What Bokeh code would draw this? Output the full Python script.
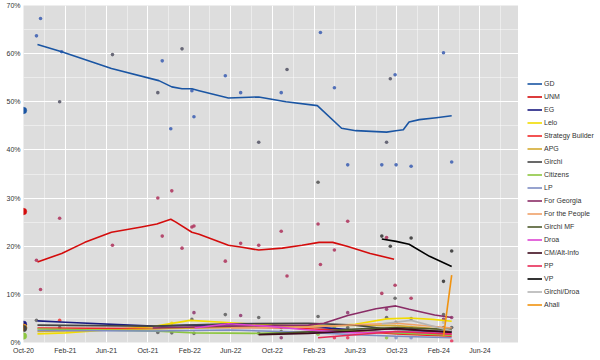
import pandas as pd
from bokeh.plotting import figure
from bokeh.layouts import row
from bokeh.models import FixedTicker, PrintfTickFormatter, Legend, LegendItem, Range1d
from bokeh.embed import file_html
from bokeh.resources import INLINE

# ---------------- data ----------------
parties = ["GD", "UNM", "EG", "Lelo", "Strategy Builder", "APG", "Girchi", "Citizens", "LP",
           "For Georgia", "For the People", "Girchi MF", "Droa", "CM/Alt-Info", "PP", "VP",
           "Girchi/Droa", "Ahali"]

x_tick_dates = ["2020-10-01", "2021-02-01", "2021-06-01", "2021-10-01", "2022-02-01", "2022-06-01",
                "2022-10-01", "2023-02-01", "2023-06-01", "2023-10-01", "2024-02-01", "2024-06-01"]
x_tick_labels = ["Oct-20", "Feb-21", "Jun-21", "Oct-21", "Feb-22", "Jun-22",
                 "Oct-22", "Feb-23", "Jun-23", "Oct-23", "Feb-24", "Jun-24"]
x_minor_dates = ["2020-12-01", "2021-04-01", "2021-08-01", "2021-12-01", "2022-04-01", "2022-08-01",
                 "2022-12-01", "2023-04-01", "2023-08-01", "2023-12-01", "2024-04-01", "2024-08-01"]
y_ticks = [0, 10, 20, 30, 40, 50, 60, 70]
y_minor = [5, 15, 25, 35, 45, 55, 65]

# 2020 election result
election_date = "2020-10-01"
election_parties = ["GD", "UNM", "EG", "Lelo", "Strategy Builder", "APG", "Girchi", "Citizens"]
election_values = [48.2, 27.2, 3.8, 3.15, 3.15, 3.14, 2.89, 1.33]

# trend lines
gd_dates = ["2020-11-11", "2021-01-21", "2021-06-16", "2021-11-02", "2021-12-10", "2022-01-09",
            "2022-02-07", "2022-02-28", "2022-05-25", "2022-08-22", "2022-11-10", "2023-02-10",
            "2023-04-22", "2023-06-03", "2023-09-01", "2023-09-28", "2023-10-20", "2023-11-06",
            "2023-12-06", "2024-01-25", "2024-03-10"]
gd_vals = [61.9, 60.4, 56.9, 54.4, 53.1, 52.7, 52.7, 52.3, 50.8, 51.0, 50.0, 49.2,
           44.5, 44.0, 43.7, 44.0, 44.2, 45.8, 46.3, 46.7, 47.1]

unm_dates = ["2020-11-11", "2021-01-21", "2021-03-30", "2021-06-16", "2021-09-12", "2021-10-27",
             "2021-12-07", "2021-12-22", "2022-02-07", "2022-02-28", "2022-05-25", "2022-07-04",
             "2022-08-22", "2022-10-30", "2022-12-27", "2023-02-15", "2023-03-27", "2023-05-08",
             "2023-07-15", "2023-09-23"]
unm_vals = [16.7, 18.5, 20.8, 22.9, 24.0, 24.6, 25.6, 25.0, 22.9, 22.5, 20.2, 19.8,
            19.2, 19.6, 20.2, 20.8, 20.8, 20.0, 18.5, 17.3]

eg_dates = ["2020-11-11", "2021-02-01", "2021-10-15", "2022-03-01", "2022-08-01", "2023-01-15",
            "2023-06-01", "2023-10-01", "2024-01-15", "2024-03-10"]
eg_vals = [4.5, 4.2, 3.4, 3.6, 3.8, 3.3, 2.6, 2.0, 2.2, 2.4]

lelo_dates = ["2020-11-11", "2021-02-01", "2021-10-15", "2022-02-01", "2022-06-01", "2022-10-01",
              "2023-02-01", "2023-06-01", "2023-09-01", "2023-11-06", "2024-01-15", "2024-03-10"]
lelo_vals = [1.8, 2.0, 3.3, 4.6, 4.1, 3.6, 3.3, 3.8, 4.9, 5.1, 4.8, 4.4]

sb_dates = ["2020-11-11", "2021-10-15", "2022-05-01", "2022-12-01", "2023-06-01", "2023-10-01", "2024-03-10"]
sb_vals = [3.0, 2.9, 3.2, 3.0, 2.4, 1.8, 1.3]

apg_dates = ["2020-11-11", "2021-10-15", "2022-06-01", "2023-01-15", "2023-06-01", "2023-10-01", "2024-03-10"]
apg_vals = [2.3, 2.8, 3.2, 3.3, 3.6, 3.5, 2.6]

girchi_dates = ["2020-11-11", "2021-10-15", "2022-06-01", "2023-01-15", "2023-06-01", "2023-09-01", "2024-03-10"]
girchi_vals = [3.6, 3.4, 3.9, 4.0, 3.6, 2.8, 2.2]

citizens_dates = ["2020-11-11", "2021-10-15", "2022-02-15", "2022-08-22", "2023-02-01", "2023-06-01",
                  "2023-10-01", "2024-03-10"]
citizens_vals = [2.8, 2.4, 2.0, 1.9, 2.2, 2.5, 2.0, 1.5]

lp_dates = ["2020-11-11", "2021-10-15", "2022-06-01", "2023-01-15", "2023-06-01", "2023-10-01", "2024-03-10"]
lp_vals = [2.5, 2.4, 2.6, 2.1, 1.6, 1.3, 1.0]

fg_dates = ["2021-10-15", "2022-06-01", "2023-01-15", "2023-03-01", "2023-05-10", "2023-08-01",
            "2023-09-28", "2023-11-06", "2024-01-20", "2024-03-10"]
fg_vals = [3.0, 3.4, 3.6, 4.0, 5.6, 7.0, 7.6, 6.9, 5.7, 5.2]

ftp_dates = ["2022-06-01", "2023-01-15", "2023-06-01", "2023-10-01", "2024-03-10"]
ftp_vals = [3.0, 3.2, 3.7, 4.0, 3.0]

gmf_dates = ["2022-08-22", "2023-01-15", "2023-06-01", "2023-10-01", "2024-03-10"]
gmf_vals = [1.7, 2.2, 2.8, 3.1, 2.7]

droa_dates = ["2022-02-15", "2022-05-25", "2022-09-15", "2023-01-15", "2023-06-01", "2023-10-01", "2024-03-10"]
droa_vals = [3.0, 3.9, 3.4, 2.6, 2.0, 2.3, 1.8]

cm_dates = ["2022-08-22", "2023-01-15", "2023-06-01", "2023-10-01", "2024-03-10"]
cm_vals = [1.6, 1.9, 2.4, 2.9, 2.1]

pp_dates = ["2023-02-12", "2023-06-01", "2023-10-01", "2024-03-10"]
pp_vals = [1.0, 1.6, 2.3, 1.7]

vp_dates = ["2023-08-18", "2023-09-29", "2023-11-06", "2024-01-05", "2024-03-10"]
vp_vals = [21.5, 21.0, 20.4, 17.9, 15.8]

gd_droa_dates = ["2023-08-18", "2023-11-12", "2024-02-15", "2024-03-10"]
gd_droa_vals = [3.9, 4.6, 2.8, 2.5]

ahali_dates = ["2024-02-15", "2024-03-10"]
ahali_vals = [1.2, 14.0]

# individual polls
gd_poll_dates = ["2020-11-08", "2020-11-20", "2021-01-21", "2021-01-15", "2021-06-19", "2021-10-30",
                 "2021-11-12", "2021-12-07", "2022-01-09", "2022-02-07", "2022-02-13", "2022-05-16",
                 "2022-06-30", "2022-08-22", "2022-10-27", "2022-11-13", "2023-02-19", "2023-04-01",
                 "2023-05-10", "2023-08-18", "2023-09-01", "2023-09-12", "2023-09-26", "2023-09-29",
                 "2023-11-12", "2024-02-15", "2024-03-10"]
gd_poll_vals = [63.7, 67.3, 60.4, 50.0, 59.8, 51.9, 58.5, 44.4, 61.0, 52.3, 46.9, 55.4,
                51.9, 41.6, 51.9, 56.7, 64.4, 52.9, 36.9, 36.9, 41.6, 54.8, 55.6, 36.9,
                36.6, 60.2, 37.5]
gd_poll_group = ["a", "a", "a", "b", "b", "b", "a", "a", "b", "a", "a", "a",
                 "a", "b", "a", "b", "a", "a", "a", "a", "b", "b", "a", "a",
                 "a", "a", "a"]

unm_poll_dates = ["2020-11-08", "2020-11-20", "2021-01-15", "2021-06-19", "2021-10-30", "2021-11-12",
                  "2021-12-10", "2022-01-09", "2022-02-07", "2022-02-13", "2022-05-16", "2022-06-30",
                  "2022-08-22", "2022-10-27", "2022-11-13", "2023-02-12", "2023-02-12", "2023-02-19",
                  "2023-04-01", "2023-05-10", "2023-08-18", "2023-09-01", "2023-09-26", "2023-11-12"]
unm_poll_vals = [17.1, 11.0, 25.8, 20.2, 30.0, 22.1, 31.5, 19.6, 24.0, 24.2, 16.9, 20.6,
                 20.2, 23.1, 13.8, 33.3, 24.6, 16.2, 19.2, 25.2, 10.2, 21.8, 11.9, 9.2]
unm_poll_group = ["a"] * 15 + ["b"] + ["a"] * 8

vp_poll_dates = ["2023-08-18", "2023-09-12", "2023-11-12", "2024-02-15", "2024-03-10"]
vp_poll_vals = [22.1, 20.0, 21.7, 12.7, 19.0]

minor_poll_party = ["Girchi", "Strategy Builder", "Girchi", "Girchi", "Girchi", "Lelo", "Girchi",
                    "For Georgia", "Girchi", "Girchi", "For Georgia", "Girchi", "Girchi", "Girchi",
                    "For Georgia", "Girchi MF", "Girchi", "Citizens", "For Georgia", "Girchi", "PP",
                    "Citizens", "PP", "Girchi", "For Georgia", "Citizens", "Girchi", "Girchi", "LP",
                    "Girchi", "Girchi", "LP", "Girchi", "For Georgia", "Girchi/Droa", "Girchi",
                    "Citizens", "For Georgia", "Girchi", "PP"]
minor_poll_dates = ["2020-11-08", "2021-01-15", "2021-01-15", "2021-10-30", "2021-12-10", "2021-12-10",
                    "2022-02-13", "2022-02-13", "2022-02-07", "2022-05-16", "2022-06-30", "2022-08-22",
                    "2022-08-22", "2022-10-27", "2022-10-27", "2022-10-27", "2023-02-12", "2023-02-12",
                    "2023-05-10", "2023-05-10", "2023-05-10", "2023-04-01", "2023-04-01", "2023-09-01",
                    "2023-09-01", "2023-09-01", "2023-09-26", "2023-09-29", "2023-09-29", "2023-11-12",
                    "2023-11-12", "2023-11-12", "2024-02-15", "2024-02-15", "2024-02-15", "2024-02-15",
                    "2024-02-15", "2024-03-10", "2024-03-10", "2024-03-10"]
minor_poll_vals = [4.6, 4.6, 3.1, 2.1, 2.0, 4.0, 1.9, 6.2, 4.8, 5.8, 5.6, 5.2, 1.9, 3.1, 1.0, 2.3,
                   5.4, 1.7, 6.2, 3.1, 1.0, 3.1, 1.0, 5.2, 6.9, 1.0, 9.2, 4.2, 1.0, 5.0, 3.1, 1.0,
                   5.8, 4.8, 4.2, 3.1, 1.7, 5.2, 3.1, 0.3]

# ---------------- styling ----------------
colors = {
    "GD": "#1a55a3", "UNM": "#d40c0c", "EG": "#1a1a80", "Lelo": "#f2dc00",
    "Strategy Builder": "#f02828", "APG": "#d4aa30", "Girchi": "#444444", "Citizens": "#8cc63f",
    "LP": "#7d8cc4", "For Georgia": "#8a2c66", "For the People": "#efa068", "Girchi MF": "#4e5a2c",
    "Droa": "#dd44d2", "CM/Alt-Info": "#3e0a1c", "PP": "#e82a55", "VP": "#000000",
    "Girchi/Droa": "#b4b4b4", "Ahali": "#f0920f",
}

trend_dates = {"GD": gd_dates, "UNM": unm_dates, "EG": eg_dates, "Lelo": lelo_dates,
               "Strategy Builder": sb_dates, "APG": apg_dates, "Girchi": girchi_dates,
               "Citizens": citizens_dates, "LP": lp_dates, "For Georgia": fg_dates,
               "For the People": ftp_dates, "Girchi MF": gmf_dates, "Droa": droa_dates,
               "CM/Alt-Info": cm_dates, "PP": pp_dates, "VP": vp_dates,
               "Girchi/Droa": gd_droa_dates, "Ahali": ahali_dates}
trend_vals = {"GD": gd_vals, "UNM": unm_vals, "EG": eg_vals, "Lelo": lelo_vals,
              "Strategy Builder": sb_vals, "APG": apg_vals, "Girchi": girchi_vals,
              "Citizens": citizens_vals, "LP": lp_vals, "For Georgia": fg_vals,
              "For the People": ftp_vals, "Girchi MF": gmf_vals, "Droa": droa_vals,
              "CM/Alt-Info": cm_vals, "PP": pp_vals, "VP": vp_vals,
              "Girchi/Droa": gd_droa_vals, "Ahali": ahali_vals}


def dt(lst):
    return pd.to_datetime(lst)


def ms(s):
    return int(pd.Timestamp(s).value // 10**6)


FONT = "Liberation Sans"
H = 356

p = figure(width=518, height=H, x_axis_type="datetime", output_backend="svg",
           toolbar_location=None,
           x_range=Range1d(pd.Timestamp("2020-10-01"), pd.Timestamp("2024-09-22")),
           y_range=Range1d(0, 70),
           min_border_top=5, min_border_left=23, min_border_right=0, min_border_bottom=0)
p.background_fill_color = "#dddddd"
p.border_fill_color = "white"
p.outline_line_color = None

p.xaxis.ticker = FixedTicker(ticks=[ms(s) for s in x_tick_dates],
                             minor_ticks=[ms(s) for s in x_minor_dates])
p.xaxis.major_label_overrides = {ms(s): lab for s, lab in zip(x_tick_dates, x_tick_labels)}
p.yaxis.ticker = FixedTicker(ticks=y_ticks, minor_ticks=y_minor)
p.yaxis.formatter = PrintfTickFormatter(format="%d%%")

for ax in (p.xaxis[0], p.yaxis[0]):
    ax.axis_line_color = None
    ax.major_tick_line_color = None
    ax.minor_tick_line_color = None
    ax.major_tick_out = 0
    ax.major_tick_in = 0
    ax.minor_tick_out = 0
    ax.minor_tick_in = 0
    ax.major_label_text_font = FONT
    ax.major_label_text_font_size = "7px"
    ax.major_label_text_color = "#333333"
p.xaxis.major_label_standoff = 4
p.yaxis.major_label_standoff = 3

for g in (p.xgrid[0], p.ygrid[0]):
    g.grid_line_color = "white"
    g.grid_line_width = 1
    g.minor_grid_line_color = "white"
    g.minor_grid_line_alpha = 0.45
    g.minor_grid_line_width = 1

# poll points
p.scatter(dt(gd_poll_dates), gd_poll_vals, size=3.6, line_width=0,
          fill_color=["#4264b4" if g == "a" else "#5a5a6a" for g in gd_poll_group], fill_alpha=0.9)
p.scatter(dt(unm_poll_dates), unm_poll_vals, size=3.6, line_width=0,
          fill_color=["#b03a62" if g == "a" else "#5a5a5a" for g in unm_poll_group], fill_alpha=0.9)
p.scatter(dt(vp_poll_dates), vp_poll_vals, size=3.6, line_width=0,
          fill_color="#303030", fill_alpha=0.85)
p.scatter(dt(minor_poll_dates), minor_poll_vals, size=3.6, line_width=0,
          fill_color=[colors[m] if m != "Girchi" else "#555555" for m in minor_poll_party],
          fill_alpha=0.8)

# trend lines (small parties first, big ones on top)
draw_order = [q for q in parties if q not in ("GD", "UNM", "VP", "Ahali")] + ["VP", "UNM", "GD", "Ahali"]
for party in draw_order:
    p.line(dt(trend_dates[party]), trend_vals[party],
           line_color=colors[party], line_width=1.6, line_join="round")

# election markers
p.scatter(dt([election_date] * len(election_parties)), election_values, size=6.5,
          fill_color=[colors[q] for q in election_parties],
          line_color=[colors[q] for q in election_parties], line_width=0.5)

# ---------------- legend (separate panel) ----------------
lg = figure(width=79, height=H, output_backend="svg", toolbar_location=None,
            x_axis_location=None, y_axis_location=None,
            x_range=Range1d(0, 1), y_range=Range1d(0, 1),
            min_border=0, min_border_left=0, min_border_right=0, min_border_top=0, min_border_bottom=0)
lg.outline_line_color = None
lg.background_fill_color = "white"
lg.border_fill_color = "white"
lg.xgrid.visible = False
lg.ygrid.visible = False
items = []
for party in parties:
    r = lg.line([2, 3], [2, 3], line_color=colors[party], line_width=1.6)
    items.append(LegendItem(label=party, renderers=[r]))
legend = Legend(items=items, location=(9, 32), border_line_color=None,
                background_fill_color="white", background_fill_alpha=0.0,
                label_text_font=FONT, label_text_font_size="7px", label_text_color="#333333",
                glyph_width=15, glyph_height=11, label_height=11, spacing=2,
                padding=3, margin=0, label_standoff=2)
lg.add_layout(legend)

layout = row(p, lg)
open("out.html", "w").write(file_html(layout, INLINE))
